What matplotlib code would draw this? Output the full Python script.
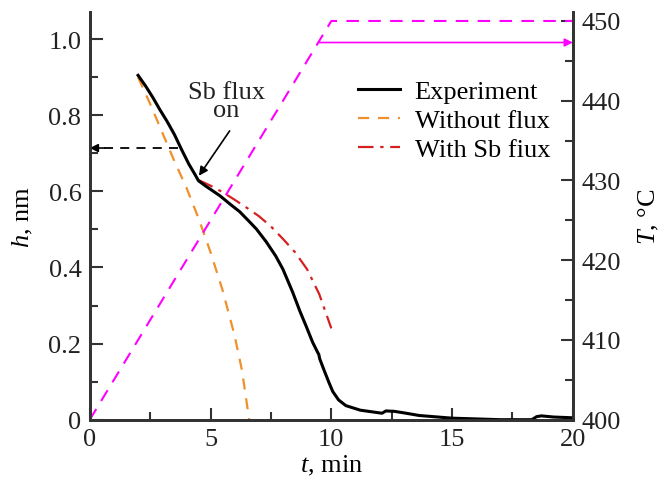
import matplotlib
matplotlib.use('Agg')
from matplotlib import pyplot as plt
from matplotlib.ticker import MultipleLocator, FuncFormatter

plt.rcParams['font.family'] = ['Liberation Serif', 'DejaVu Serif']
plt.rcParams['mathtext.fontset'] = 'custom'
plt.rcParams['mathtext.rm'] = 'Liberation Serif'
plt.rcParams['mathtext.it'] = 'Liberation Serif:italic'

# experiment, h (nm) vs t (min)
exp_t = [2.0, 2.3, 2.6, 2.9, 3.2, 3.5, 3.8, 4.1, 4.35, 4.5, 4.8, 5.1, 5.4,
         5.8, 6.2, 6.6, 6.9, 7.3, 7.7, 8.0, 8.4, 8.7, 8.95, 9.23, 9.45,
         9.48, 9.52, 9.7, 9.9, 10.06, 10.3, 10.6, 11.2, 11.98, 12.1, 12.26,
         12.6, 13.0, 13.64, 15.0, 16.0, 17.0, 18.3, 18.5, 18.7, 19.2, 20.0]
exp_h = [0.905, 0.878, 0.848, 0.815, 0.784, 0.75, 0.71, 0.672, 0.645, 0.628,
         0.614, 0.601, 0.588, 0.567, 0.547, 0.521, 0.501, 0.468, 0.43, 0.395,
         0.335, 0.285, 0.247, 0.203, 0.175, 0.172, 0.16, 0.13, 0.098, 0.074,
         0.052, 0.037, 0.025, 0.018, 0.017, 0.023, 0.022, 0.018, 0.011,
         0.004, 0.002, 0.0, 0.0, 0.008, 0.01, 0.007, 0.005]

# model without flux
noflux_t = [2.0, 2.5, 3.0, 3.5, 4.0, 4.5, 5.0, 5.5, 6.0, 6.3, 6.6]
noflux_h = [0.90, 0.83, 0.755, 0.68, 0.61, 0.53, 0.44, 0.34, 0.22, 0.13, 0.0]

# model with Sb flux
sb_t = [4.5, 5.0, 5.5, 6.0, 6.5, 7.0, 7.5, 8.0, 8.5, 9.0, 9.5, 10.0]
sb_h = [0.63, 0.615, 0.598, 0.578, 0.557, 0.535, 0.508, 0.475, 0.44,
        0.395, 0.33, 0.24]

# temperature program
temp_t = [0, 10, 20]
temp_T = [400, 450, 450]

FS = 19
spine_col = '#333333'

fig = plt.figure(figsize=(6.7, 4.89), dpi=100)
ax = fig.add_axes([0.134, 0.1397, 0.721, 0.8333])
ax2 = ax.twinx()

ax.plot(exp_t, exp_h, '-', color='black', lw=2.2, label='Experiment', zorder=3)
ax.plot(noflux_t, noflux_h, '--', color='#F0902A', lw=1.6, dashes=(5, 4),
        label='Without flux')
ax.plot(sb_t, sb_h, '-.', color='#D42020', lw=1.6, dashes=(7, 3, 1.5, 3),
        label='With Sb fiux')

ax2.plot(temp_t, temp_T, '--', color='#FF00FF', lw=1.5, dashes=(6, 4.5))
ax2.annotate('', xy=(20, 447.3), xytext=(9.5, 447.3),
             arrowprops=dict(arrowstyle='-|>', color='#FF00FF', lw=1.2,
                             mutation_scale=12, shrinkA=0, shrinkB=0))

# dashed arrow to the h axis
ax.plot([3.65, 0.4], [0.714, 0.714], '--', color='black', lw=1.3, dashes=(5, 4))
ax.annotate('', xy=(0, 0.714), xytext=(0.6, 0.714),
            arrowprops=dict(arrowstyle='-|>', color='black', lw=1.2,
                            mutation_scale=12, shrinkA=0, shrinkB=0))

# Sb flux on
ax.text(5.65, 0.838, 'Sb flux\non', ha='center', va='center', fontsize=FS,
        linespacing=0.8, color='#222222')
ax.annotate('', xy=(4.52, 0.641), xytext=(5.79, 0.759),
            arrowprops=dict(arrowstyle='-|>', color='black', lw=1.2,
                            mutation_scale=13, shrinkA=0, shrinkB=0))

ax.set_xlim(0, 20)
ax.set_ylim(0, 1.071)
ax2.set_ylim(400, 451.1)

ax.xaxis.set_major_locator(MultipleLocator(5))
ax.xaxis.set_minor_locator(MultipleLocator(2.5))
ax.yaxis.set_major_locator(MultipleLocator(0.2))
ax.yaxis.set_minor_locator(MultipleLocator(0.1))
ax.yaxis.set_major_formatter(FuncFormatter(lambda v, p: '0' if abs(v) < 1e-9 else '%.1f' % v))
ax2.yaxis.set_major_locator(MultipleLocator(10))
ax2.yaxis.set_minor_locator(MultipleLocator(5))

for a in (ax, ax2):
    a.tick_params(which='both', direction='in', labelsize=FS, color=spine_col,
                  labelcolor='#222222', width=1.5, pad=6)
    a.tick_params(which='major', length=9)
    a.tick_params(which='minor', length=6)
    a.spines['top'].set_visible(False)
    for s in ('left', 'right', 'bottom'):
        a.spines[s].set_linewidth(2)
        a.spines[s].set_color(spine_col)

ax.set_xlabel('$t$, min', fontsize=FS, labelpad=2)
ax.set_ylabel('$h$, nm', fontsize=FS, labelpad=10)
ax2.set_ylabel('$T$, °C', fontsize=FS, labelpad=12)

ax.legend(loc='upper left', bbox_to_anchor=(0.555, 0.835), frameon=False,
          fontsize=FS, handlelength=1.6, handletextpad=0.55,
          labelspacing=0.22, borderaxespad=0, borderpad=0)

fig.savefig('out.png', dpi=100)
